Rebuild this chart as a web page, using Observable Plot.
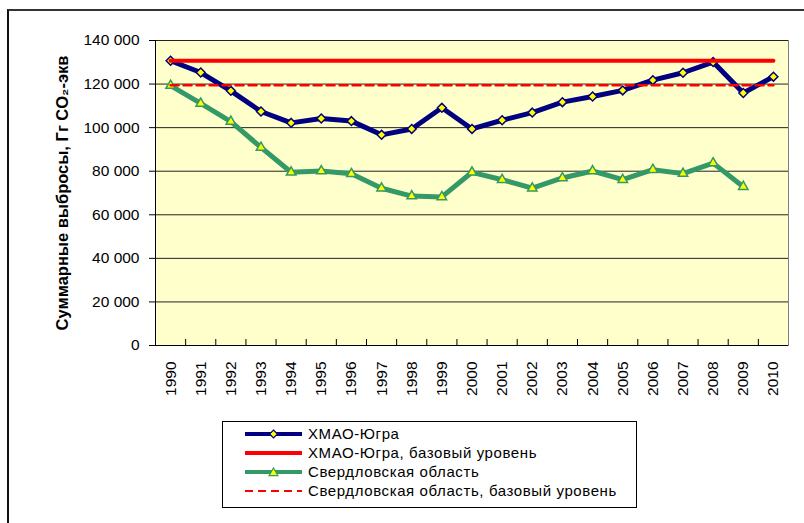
<!DOCTYPE html>
<html><head><meta charset="utf-8">
<script src="https://cdn.jsdelivr.net/npm/d3@7"></script>
<script src="https://cdn.jsdelivr.net/npm/@observablehq/plot@0.6"></script>
<style>
body{margin:0;background:#fff;font-family:"Liberation Sans",Arial,sans-serif;}
#wrap{position:relative;width:804px;height:523px;overflow:hidden;background:#fff;}
#frame{position:absolute;left:7px;top:9px;width:900px;height:600px;border-left:2px solid #111;border-top:2px solid #333;}
#chart{position:absolute;left:0;top:0;}
#legend{position:absolute;left:222px;top:421px;}
</style></head>
<body>
<div id="wrap"><div id="frame"></div><div id="chart"></div><div id="legend"></div></div>
<script>
// ---- data ----
const years = [1990,1991,1992,1993,1994,1995,1996,1997,1998,1999,2000,2001,2002,2003,2004,2005,2006,2007,2008,2009,2010];
const khmao = [130700,125300,116900,107400,102200,104200,103000,96700,99400,109100,99400,103400,106900,111700,114300,117100,121800,125200,130100,115900,123400];
const sverd = [119300,111100,102800,90900,79500,80100,78800,72200,68600,68200,79500,76100,72200,76900,80100,76100,80700,78900,83700,72900];
const khmaoBase = 130700;
const sverdBase = 119500;
const yTicks = [0,20000,40000,60000,80000,100000,120000,140000];
const seriesNames = ["ХМАО-Югра","ХМАО-Югра, базовый уровень","Свердловская область","Свердловская область, базовый уровень"];
const yTitle = "Суммарные выбросы, Гг CO₂-экв";

// ---- tables ----
const khmaoData = years.map((y,i)=>({year:y, value:khmao[i]}));
const sverdData = sverd.map((v,i)=>({year:years[i], value:v}));
const khmaoBaseData = years.map(y=>({year:y, value:khmaoBase}));
const sverdBaseData = years.map(y=>({year:y, value:sverdBase}));
const xDomain = [years[0]-0.5, years[years.length-1]+0.5];
const boundaries = years.slice(0,-1).map(y=>y+0.5);
const fmt = d => d3.format(",")(d).replace(/,/g," ");

const NAVY="#000080", RED="#FF0000", GREEN="#339966", YEL="#FFFF00";
const FONT = '"Liberation Sans", Arial, sans-serif';

const plot = Plot.plot({
  width: 804, height: 410,
  marginLeft: 155, marginRight: 16, marginTop: 40, marginBottom: 65,
  style: {fontFamily: FONT, fontSize: "15px", color: "#000", background: "transparent"},
  x: {domain: xDomain},
  y: {domain: [0,140000]},
  marks: [
    Plot.frame({fill: "#FFFFCC", stroke: "#808080"}),
    Plot.gridY(yTicks, {stroke: "#222", strokeOpacity: 1}),
    Plot.tickX(boundaries, {x: d=>d, stroke: "#000", insetTop: 299}),
    Plot.ruleX([xDomain[0]], {stroke: "#000"}),
    Plot.ruleY([0], {stroke: "#000"}),
    Plot.axisY({ticks: yTicks, tickSize: 6, tickPadding: 10, tickFormat: fmt, label: null, fontSize: 15.5}),
    Plot.axisX({ticks: years, tickSize: 0, tickPadding: 16, tickRotate: -90, tickFormat: d=>String(d), label: null, fontSize: 15.5}),
    Plot.text([yTitle], {frameAnchor: "left", textAnchor: "middle", rotate: -90, dx: -93, fontWeight: "bold", fontSize: 16.5}),
    Plot.line(khmaoData, {x: "year", y: "value", stroke: NAVY, strokeWidth: 5}),
    Plot.dot(khmaoData, {x: "year", y: "value", symbol: "diamond2", r: 4, fill: YEL, stroke: NAVY, strokeWidth: 1.5}),
    Plot.line(khmaoBaseData, {x: "year", y: "value", stroke: RED, strokeWidth: 4}),
    Plot.line(sverdData, {x: "year", y: "value", stroke: GREEN, strokeWidth: 5}),
    Plot.dot(sverdData, {x: "year", y: "value", symbol: "triangle2", r: 4.5, fill: YEL, stroke: GREEN, strokeWidth: 1.5}),
    Plot.line(sverdBaseData, {x: "year", y: "value", stroke: RED, strokeWidth: 2.5, strokeDasharray: "8,5"})
  ]
});
document.getElementById("chart").appendChild(plot);

// ---- legend ----
const L = d3.select("#legend").append("svg").attr("width", 416).attr("height", 88)
  .style("font-family", FONT).style("font-size", "15px");
L.append("rect").attr("x",0.5).attr("y",0.5).attr("width",414).attr("height",86).attr("fill","#fff").attr("stroke","#000");
const rowsY = [13,32,51,70];
const styles = [
  {stroke:NAVY, w:4, dash:null, sym:"diamond"},
  {stroke:RED, w:4, dash:null, sym:null},
  {stroke:GREEN, w:4, dash:null, sym:"triangle"},
  {stroke:RED, w:2, dash:"8,5", sym:null}
];
seriesNames.forEach((name,i)=>{
  const s = styles[i], y = rowsY[i];
  L.append("line").attr("x1",23).attr("x2",80).attr("y1",y).attr("y2",y)
    .attr("stroke",s.stroke).attr("stroke-width",s.w).attr("stroke-dasharray",s.dash);
  if (s.sym==="diamond") L.append("path").attr("d",d3.symbol(d3.symbolDiamond2, 40)()).attr("transform",`translate(51.5,${y})`).attr("fill",YEL).attr("stroke",NAVY).attr("stroke-width",1.2);
  if (s.sym==="triangle") L.append("path").attr("d",d3.symbol(d3.symbolTriangle2, 55)()).attr("transform",`translate(51.5,${y+1})`).attr("fill",YEL).attr("stroke",GREEN).attr("stroke-width",1.2);
  L.append("text").attr("x",86).attr("y",y).attr("dy","0.35em").style("letter-spacing","0.6px").text(name);
});
</script>
</body></html>
